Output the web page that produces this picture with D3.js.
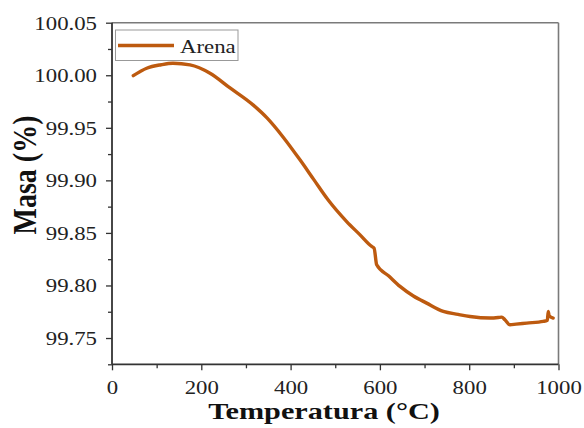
<!DOCTYPE html>
<html>
<head>
<meta charset="utf-8">
<script src="https://cdn.jsdelivr.net/npm/d3@7/dist/d3.min.js"></script>
<style>
html,body{margin:0;padding:0;background:#fff;}
svg{display:block;}
</style>
</head>
<body>
<svg id="chart" width="584" height="428"></svg>
<script>
const seriesName = "Arena";
const temperature = [47.7, 77.7, 110, 136.6, 174.7, 219.5, 264.3, 315.8, 347.1, 383, 421, 452, 483.8, 525.6, 555, 581.6, 587, 592.8, 620, 645, 675, 704.8, 742, 775, 801.8, 846.6, 865, 872.8, 880, 891.4, 905, 928.8, 966, 975, 977, 979, 988];
const mass = [99.9996, 100.0067, 100.0100, 100.0114, 100.0098, 100.0019, 99.9879, 99.9718, 99.9594, 99.9413, 99.9195, 99.9007, 99.8815, 99.8608, 99.8484, 99.8371, 99.8355, 99.8197, 99.8090, 99.7991, 99.7900, 99.7832, 99.7753, 99.7725, 99.7705, 99.7690, 99.7695, 99.7699, 99.7674, 99.7626, 99.7632, 99.7642, 99.7658, 99.7669, 99.7753, 99.7712, 99.7690];
const xTicks = [0, 200, 400, 600, 800, 1000];
const yTicks = [99.75, 99.80, 99.85, 99.90, 99.95, 100.00, 100.05];
const xLabel = "Temperatura (°C)";
const yLabel = "Masa (%)";

const svg = d3.select("#chart");
const L = 112, R = 558.5, T = 22.7, B = 364.3;
const SX = 1.2;
const x = d3.scaleLinear().domain([0, 1000]).range([L, R]);
const y = d3.scaleLinear().domain([99.725, 100.05]).range([B, T]);
const serif = "'Liberation Serif','Times New Roman',Tinos,serif";
const color = "#BD5A0F";

// frame top & right
svg.append("line").attr("x1", L).attr("x2", R).attr("y1", T).attr("y2", T).attr("stroke", "#7a7a7a").attr("stroke-width", 1.6);
svg.append("line").attr("x1", R).attr("x2", R).attr("y1", T).attr("y2", B).attr("stroke", "#7a7a7a").attr("stroke-width", 1.6);

// minor ticks
const xMinor = d3.range(100, 1000, 200);
const yMinor = d3.range(99.725, 100.05, 0.05);
const gxm = svg.append("g").attr("transform", `translate(0,${B})`)
  .call(d3.axisBottom(x).tickValues(xMinor).tickSize(4).tickFormat(""));
const gym = svg.append("g").attr("transform", `translate(${L},0)`)
  .call(d3.axisLeft(y).tickValues(yMinor).tickSize(4).tickFormat(""));
[gxm, gym].forEach(g => { g.select(".domain").remove(); g.selectAll("line").attr("stroke", "#333").attr("stroke-width", 1.3); });

// major axes
const gx = svg.append("g").attr("transform", `translate(0,${B})`)
  .call(d3.axisBottom(x).tickValues(xTicks).tickSize(6).tickSizeOuter(0).tickFormat(d3.format("d")));
const gy = svg.append("g").attr("transform", `translate(${L},0)`)
  .call(d3.axisLeft(y).tickValues(yTicks).tickSize(6).tickSizeOuter(0).tickFormat(d3.format(".2f")));
[gx, gy].forEach(g => {
  g.attr("font-family", serif);
  g.select(".domain").attr("stroke", "#333").attr("stroke-width", 1.8);
  g.selectAll("line").attr("stroke", "#333").attr("stroke-width", 1.3);
  g.selectAll("text").attr("font-family", serif).attr("font-size", 19).attr("fill", "#222");
});
gx.selectAll("text").attr("y", 30).attr("dy", 0).attr("transform", `scale(${SX},1)`);
gy.selectAll("text").attr("x", -15 / SX).attr("dy", "0.34em").attr("transform", `scale(${SX},1)`);
gx.select(".domain").attr("d", `M${L},0H${R}`);
gy.select(".domain").attr("d", `M0,${B}V${T}`);

// line
const line = d3.line().x((d, i) => x(temperature[i])).y((d, i) => y(mass[i])).curve(d3.curveMonotoneX);
svg.append("path").datum(mass).attr("d", line).attr("fill", "none")
  .attr("stroke", color).attr("stroke-width", 3.4).attr("stroke-linejoin", "round").attr("stroke-linecap", "round");

// legend
const lg = svg.append("g");
lg.append("rect").attr("x", 115.5).attr("y", 30).attr("width", 122.5).attr("height", 30.5)
  .attr("fill", "#fff").attr("stroke", "#999").attr("stroke-width", 1);
lg.append("line").attr("x1", 118).attr("x2", 174).attr("y1", 45.5).attr("y2", 45.5)
  .attr("stroke", color).attr("stroke-width", 3.4);
lg.append("text").attr("transform", `translate(180,52.5) scale(${SX},1)`)
  .attr("font-family", serif).attr("font-size", 19).attr("fill", "#222").text(seriesName);

// axis titles
svg.append("text").attr("transform", `translate(324,418.5) scale(1.26,1)`)
  .attr("text-anchor", "middle").attr("font-family", serif).attr("font-weight", "bold")
  .attr("font-size", 24).attr("fill", "#111").text(xLabel);
svg.append("text").attr("transform", `translate(36,175) scale(${SX},1) rotate(-90)`)
  .attr("text-anchor", "middle").attr("font-family", serif).attr("font-weight", "bold")
  .attr("font-size", 28).attr("fill", "#111").text(yLabel);
</script>
</body>
</html>
